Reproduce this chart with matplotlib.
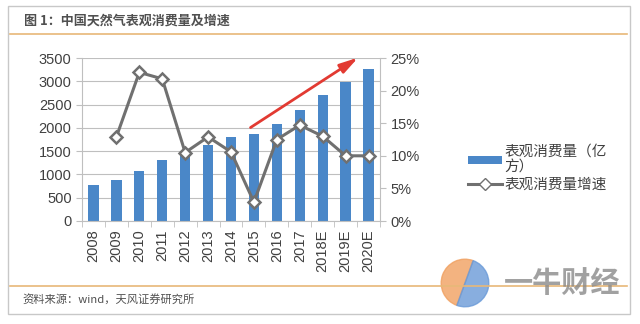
import matplotlib
matplotlib.use("Agg")
import matplotlib.pyplot as plt
from matplotlib.lines import Line2D
from matplotlib.patches import Patch, Rectangle, Wedge
from matplotlib.ticker import FuncFormatter

plt.rcParams['font.family'] = ['Liberation Sans', 'Noto Sans CJK SC', 'DejaVu Sans']

# ── data ────────────────────────────────────────
years = ["2008", "2009", "2010", "2011", "2012", "2013", "2014",
         "2015", "2016", "2017", "2018E", "2019E", "2020E"]
consumption = [780, 880, 1080, 1310, 1480, 1640, 1810,
               1860, 2090, 2390, 2710, 2990, 3270]
growth = [None, 12.9, 22.8, 21.8, 10.5, 12.9, 10.6,
          2.9, 12.5, 14.7, 13.0, 10.0, 10.0]

BAR = "#4A87C8"
LINE = "#707070"
GRID = "#BFBFBF"
TXT = "#404040"

fig = plt.figure(figsize=(6.4, 3.24), dpi=100)
fig.patch.set_facecolor("white")

# frame + title band (behind the axes)
fig.patches.append(Rectangle((0.012, 0.03), 0.972, 0.95, transform=fig.transFigure,
                             facecolor="white", edgecolor="#C8C8C8", lw=1.0, zorder=-5))
fig.text(0.037, 0.935, "图 1：中国天然气表观消费量及增速", fontsize=9.4,
         fontweight="bold", color="#505050", family=['Noto Sans CJK SC'], va="center")
fig.add_artist(Line2D([0.015, 0.98], [0.895, 0.895], color="#E8B878", lw=1.2))
fig.add_artist(Line2D([0.015, 0.98], [0.116, 0.116], color="#E8B878", lw=1.2))
fig.text(0.035, 0.073, "资料来源：wind，天风证券研究所", fontsize=8.1, color="#505050",
         family=['Noto Sans CJK SC'], va="center")

# watermark logo
lax = fig.add_axes([440 / 640, 1 - 308 / 324, 50 / 640, 50 / 324])
lax.set_aspect("equal")
lax.axis("off")
lax.add_patch(Wedge((0, 0), 1, 70, 250, color="#F0A060", alpha=0.8))
lax.add_patch(Wedge((0, 0), 1, 250, 430, color="#6A9AD8", alpha=0.8))
lax.set_xlim(-1.05, 1.05)
lax.set_ylim(-1.05, 1.05)
fig.text(0.878, 0.127, "一牛财经", fontsize=21, fontweight="bold", color="#8A8A8A",
         alpha=0.8, family=['Noto Sans CJK SC'], ha="center", va="center", zorder=10)

ax = fig.add_axes([82 / 640, 1 - 221 / 324, (380 - 82) / 640, (221 - 58) / 324])
x = list(range(len(years)))
ax.bar(x, consumption, width=0.45, color=BAR, zorder=2)
ax.set_ylim(0, 3500)
ax.set_yticks(range(0, 3501, 500))
ax.set_xlim(-0.5, len(years) - 0.5)
ax.set_xticks(x)
ax.set_xticklabels(years, rotation=90, fontsize=10.5, color=TXT)
ax.tick_params(axis="x", length=0, pad=6)
ax.set_xticks([i - 0.5 for i in range(len(years) + 1)], minor=True)
ax.tick_params(axis="x", which="minor", length=4, color=GRID, direction="out")
ax.tick_params(axis="y", labelsize=10.5, labelcolor=TXT, color=GRID, length=4)
ax.grid(axis="y", color=GRID, lw=0.8, zorder=0)
ax.set_axisbelow(True)
for s in ["top", "right"]:
    ax.spines[s].set_visible(False)
ax.spines["left"].set_color(GRID)
ax.spines["bottom"].set_color(GRID)

ax2 = ax.twinx()
gx = [i for i, g in zip(x, growth) if g is not None]
gy = [g for g in growth if g is not None]
ax2.plot(gx, gy, color=LINE, lw=2.2, marker="D", markersize=6.5,
         markerfacecolor="white", markeredgecolor=LINE, markeredgewidth=1.8, zorder=3)
ax2.set_ylim(0, 25)
ax2.set_yticks(range(0, 26, 5))
ax2.yaxis.set_major_formatter(FuncFormatter(lambda v, p: f"{int(v)}%"))
ax2.tick_params(axis="y", labelsize=10.5, labelcolor=TXT, color=GRID, length=4)
for s in ["top", "left", "bottom"]:
    ax2.spines[s].set_visible(False)
ax2.spines["right"].set_color(GRID)

# red trend arrow
ax2.annotate("", xy=(11.65, 25.3), xytext=(6.75, 14.1),
             arrowprops=dict(arrowstyle="-|>,head_length=1.1,head_width=0.3",
                             color="#E23A32", lw=2.0), annotation_clip=False, zorder=5)

handles = [Patch(facecolor=BAR, label="表观消费量（亿\n方）"),
           Line2D([0], [0], color=LINE, lw=2.2, marker="D", markersize=6,
                  markerfacecolor="white", markeredgecolor=LINE, label="表观消费量增速")]
leg = fig.legend(handles=handles, loc="center left", bbox_to_anchor=(455 / 640, 1 - 168 / 324),
                 frameon=False, prop={"family": "Noto Sans CJK SC", "size": 10.5},
                 handlelength=2.3, handleheight=0.5, handletextpad=0.2, labelspacing=0.2)
for t in leg.get_texts():
    t.set_color(TXT)

fig.savefig("out.png", dpi=100)
